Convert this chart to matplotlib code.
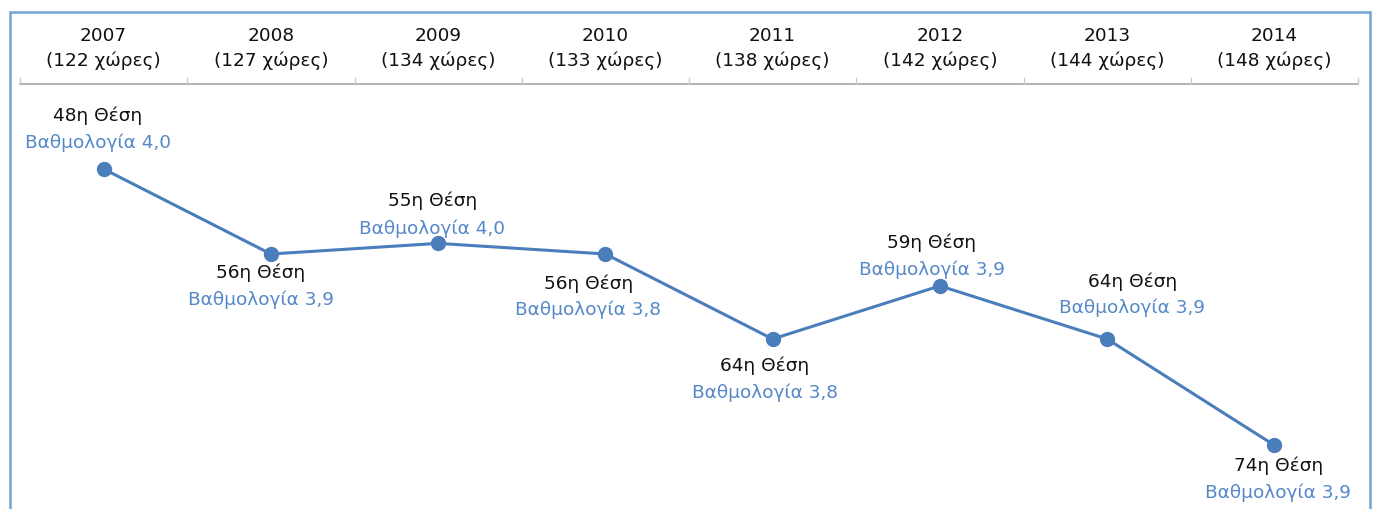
import matplotlib
matplotlib.use('Agg')
import matplotlib.pyplot as plt
from matplotlib.patches import Rectangle
import matplotlib.transforms as mtransforms

years = ['2007', '2008', '2009', '2010', '2011', '2012', '2013', '2014']
countries = [122, 127, 134, 133, 138, 142, 144, 148]
ranks = [48, 56, 55, 56, 64, 59, 64, 74]
scores = ['4,0', '3,9', '4,0', '3,8', '3,8', '3,9', '3,9', '3,9']

# label layout: (dx px, dy px of black line, dy px of blue line), y down
label_offsets = [(-6, -54, -27), (-10, 18, 45), (-6, -44, -16), (-17, 29, 55),
                 (-8, 26, 53), (-8, -44, -17), (25, -58, -32), (4, 20, 47)]

line_col = '#4a7ebb'
blue_txt = '#5588c8'
fs = 13.3

fig = plt.figure(figsize=(13.73, 5.10), dpi=100)
ax = fig.add_axes([20 / 1373, 0, 1338 / 1373, 1])
ax.set_xlim(-0.5, len(years) - 0.5)
ax.set_ylim(80, 32)
ax.axis('off')

x = list(range(len(years)))
ax.plot(x, ranks, color=line_col, lw=2.2, marker='o', ms=10, zorder=3)

for i, (r, s) in enumerate(zip(ranks, scores)):
    dx, dy1, dy2 = label_offsets[i]
    ax.annotate(f'{r}η Θέση', (i, r), xytext=(dx * 0.72, -dy1 * 0.72),
                textcoords='offset points', ha='center', va='center',
                fontsize=fs, color='#111111')
    ax.annotate(f'Βαθμολογία {s}', (i, r), xytext=(dx * 0.72, -dy2 * 0.72),
                textcoords='offset points', ha='center', va='center',
                fontsize=fs, color=blue_txt)

# header row
trans = mtransforms.blended_transform_factory(ax.transData, ax.transAxes)
y_line = 1 - 85 / 510
ax.plot([-0.5, len(years) - 0.5], [y_line, y_line], transform=trans,
        color='#a6a6a6', lw=1.2, clip_on=False)
for b in range(len(years) + 1):
    ax.plot([b - 0.5, b - 0.5], [y_line, y_line + 6 / 510], transform=trans,
            color='#c8c8c8', lw=1.0, clip_on=False)
for i, (yr, c) in enumerate(zip(years, countries)):
    ax.text(i, 1 - 36 / 510, yr, transform=trans, ha='center', va='center',
            fontsize=fs, color='#111111')
    ax.text(i, 1 - 61 / 510, f'({c} χώρες)', transform=trans, ha='center',
            va='center', fontsize=fs, color='#111111')

# outer frame
fig.patches.append(Rectangle((10 / 1373, -0.05), 1360 / 1373, 1.05 - 12.5 / 510,
                             transform=fig.transFigure, fill=False,
                             edgecolor='#6fa3d2', lw=1.8))

plt.savefig('out.png', dpi=100)
